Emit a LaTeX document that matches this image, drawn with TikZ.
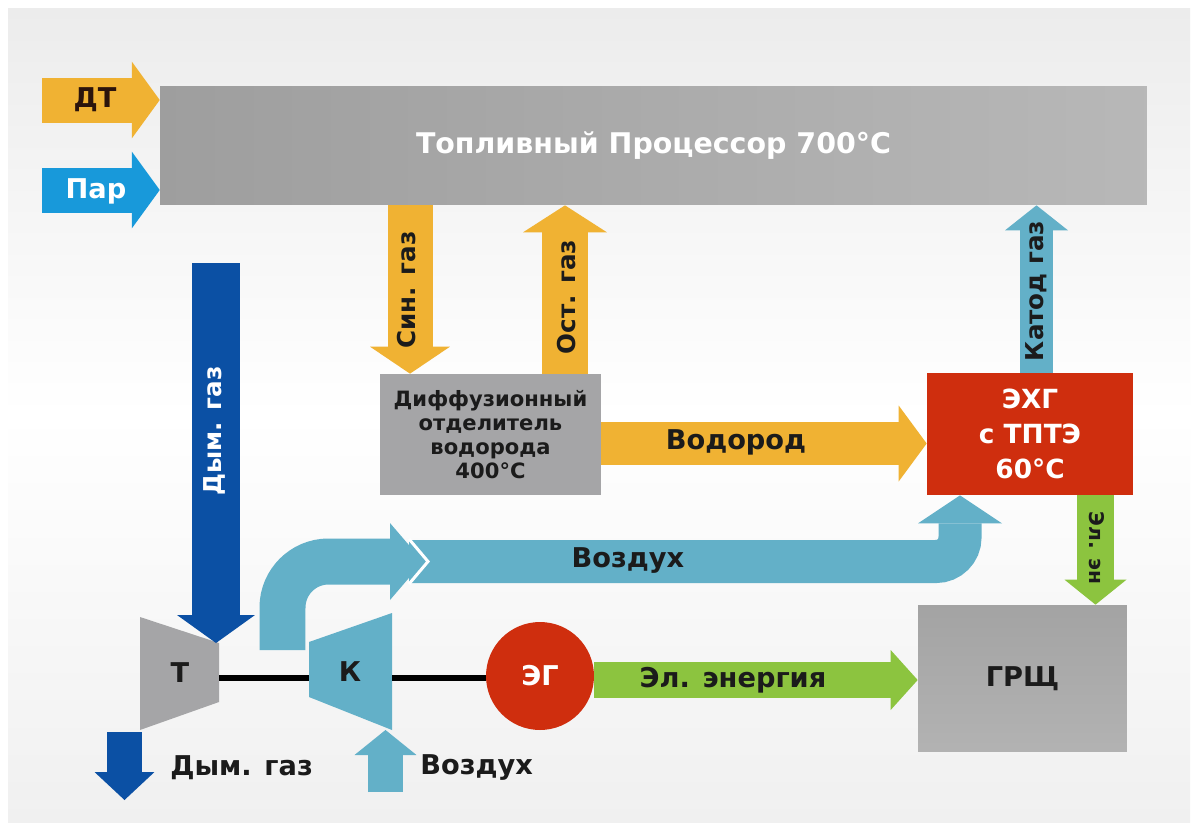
\documentclass[tikz,border=0pt]{standalone}
\usepackage{fontspec}
\setmainfont{DejaVu Sans}
\usetikzlibrary{arrows.meta}

\definecolor{yel}{HTML}{F0B233}
\definecolor{steam}{HTML}{1899DA}
\definecolor{dblue}{HTML}{0B50A4}
\definecolor{lblue}{HTML}{63B0C8}
\definecolor{gbox}{HTML}{A5A5A7}
\definecolor{rbox}{HTML}{CF2E0E}
\definecolor{grn}{HTML}{8CC43F}
\definecolor{ink}{HTML}{1B1B1B}
\definecolor{brn}{HTML}{2B140C}
\definecolor{bgtop}{HTML}{ECECEC}
\definecolor{bgbot}{HTML}{F0F0F0}

\tikzset{
  lbl/.style={font=\bfseries\fontsize{15.5}{18}\selectfont, text=ink, inner sep=0pt},
  vlbl/.style={font=\bfseries\fontsize{14}{16}\selectfont, text=ink, inner sep=0pt},
  box/.style={inner sep=0pt, align=center},
  blk/.style n args={3}{line width=#1, -{Triangle[width=#2, length=#3, line width=0pt]}},
}

\begin{document}
\begin{tikzpicture}[x=0.02cm, y=-0.02cm]
\useasboundingbox (0,0) rectangle (1197,829);
\fill[white] (0,0) rectangle (1197,829);
% light background panel, shaded in ordinary (upward) coordinates
\begin{scope}[y=0.02cm]
  \shade[top color=bgtop, bottom color=bgbot, middle color=white] (8,-8) rectangle (1190,-822);
\end{scope}

% ---- boxes ----
\node[box, minimum width=19.74cm, minimum height=2.38cm,
      left color=black!38, right color=black!28, text=white,
      font=\bfseries\fontsize{16.2}{19}\selectfont] (fp) at (653.5,145.5)
      {Топливный Процессор 700°C};

\node[box, minimum width=4.42cm, minimum height=2.42cm, fill=gbox, text=ink,
      font=\bfseries\fontsize{12}{13.8}\selectfont] (dif) at (490.5,434.5)
      {Диффузионный\\отделитель\\водорода\\400°C};

\node[box, minimum width=4.12cm, minimum height=2.44cm, fill=rbox, text=white,
      font=\bfseries\fontsize{15}{19.8}\selectfont] (ehg) at (1030,434)
      {ЭХГ\\с ТПТЭ\\60°C};

\node[box, minimum width=4.18cm, minimum height=2.94cm,
      top color=black!36, bottom color=black!30, text=ink,
      font=\bfseries\fontsize{15.5}{18}\selectfont] (grsh) at (1022.5,678.5) {ГРЩ};

% ---- turbine, compressor, generator ----
\fill[gbox] (140,617) -- (219,643) -- (219,702) -- (140,730) -- cycle;
\fill[lblue] (309,642) -- (392,613) -- (392,730) -- (309,697) -- cycle;
\node[lbl] (turb) at (180,673) {Т};
\node[lbl] (comp) at (350,672) {К};
\coordinate (tR) at (219,678);
\coordinate (kL) at (309,678);
\coordinate (kR) at (392,678);
\node[circle, fill=rbox, minimum size=2.16cm, inner sep=0pt, text=white,
      font=\bfseries\fontsize{15.5}{18}\selectfont] (eg) at (540,676) {ЭГ};
\draw[line width=0.12cm, black] (tR) -- (kL);
\draw[line width=0.12cm, black] (kR) -- (kR -| eg.west);

% ---- inputs of the fuel processor ----
\coordinate (dtin) at (42,100);
\coordinate (parin) at (42,190);
\draw[yel, blk={0.9cm}{1.54cm}{0.56cm}] (dtin) -- (fp.west |- dtin);
\draw[steam, blk={0.9cm}{1.54cm}{0.56cm}] (parin) -- (fp.west |- parin);
\node[font=\bfseries\fontsize{15.5}{18}\selectfont, text=brn] (tdt) at (95,100) {ДТ};
\node[font=\bfseries\fontsize{15.5}{18}\selectfont, text=white] (tpar) at (96,191) {Пар};

% ---- gas streams ----
\coordinate (xsin) at (410,0);
\coordinate (xost) at (565,0);
\coordinate (xkat) at (1036.5,0);
\draw[yel, blk={0.9cm}{1.6cm}{0.54cm}] (fp.south -| xsin) -- (dif.north -| xsin);
\draw[yel, blk={0.92cm}{1.68cm}{0.54cm}] (dif.north -| xost) -- (fp.south -| xost);
\draw[lblue, blk={0.66cm}{1.26cm}{0.5cm}] (ehg.north -| xkat) -- (fp.south -| xkat);
\node[vlbl, rotate=90] (tsin) at (407,290) {Син. газ};
\node[vlbl, rotate=90] (tost) at (567,297) {Ост. газ};
\node[vlbl, rotate=90] (tkat) at (1036,291) {Катод газ};

\coordinate (yh2) at (0,443.5);
\draw[yel, blk={0.86cm}{1.52cm}{0.56cm}] (dif.east |- yh2) -- (ehg.west |- yh2);
\node[lbl] (th2) at (736,442) {Водород};

% ---- electricity ----
\coordinate (xel) at (1095.5,0);
\draw[grn, blk={0.74cm}{1.24cm}{0.5cm}] (ehg.south -| xel) -- (grsh.north -| xel);
\node[font=\bfseries\fontsize{11.5}{14}\selectfont, text=ink, rotate=-90] (tel) at (1097,548) {Эл. эн};

\coordinate (yen) at (0,680);
\draw[grn, blk={0.72cm}{1.2cm}{0.54cm}] (eg.east |- yen) -- (grsh.west |- yen);
\node[lbl] (ten) at (733,680) {Эл. энергия};

% ---- flue gas ----
\coordinate (dg0) at (216,263);
\coordinate (dg1) at (216,643);
\draw[dblue, blk={0.96cm}{1.56cm}{0.56cm}] (dg0) -- (dg1);
\node[font=\bfseries\fontsize{14}{16}\selectfont, text=white, rotate=90] (tdg) at (214,431) {Дым. газ};

\coordinate (dgo0) at (124.5,732);
\coordinate (dgo1) at (124.5,800);
\draw[dblue, blk={0.7cm}{1.2cm}{0.56cm}] (dgo0) -- (dgo1);
\node[lbl, anchor=west] (tdgo) at (170,768) {Дым. газ};

% ---- air ----
\coordinate (ai0) at (385.5,792);
\coordinate (ai1) at (385.5,730);
\draw[lblue, blk={0.7cm}{1.24cm}{0.5cm}] (ai0) -- (ai1);
\node[lbl, anchor=west] (tai) at (420,768) {Воздух};

\coordinate (a2s) at (409,561.5);
\coordinate (a2c) at (960,561.5);
\draw[lblue, rounded corners=0.48cm, blk={0.86cm}{1.68cm}{0.56cm}]
  (a2s) -- (a2c) -- (ehg.south -| a2c);
\draw[white, line width=0.06cm, line join=miter] (409,539) -- (428,561.5) -- (409,584);

\coordinate (a1s) at (282.5,650);
\coordinate (a1t) at (423,561.5);
\draw[lblue, rounded corners=0.92cm, blk={0.92cm}{1.54cm}{0.66cm}] (a1s) |- (a1t);
\node[lbl] (tair) at (628,561) {Воздух};

\end{tikzpicture}
\end{document}
